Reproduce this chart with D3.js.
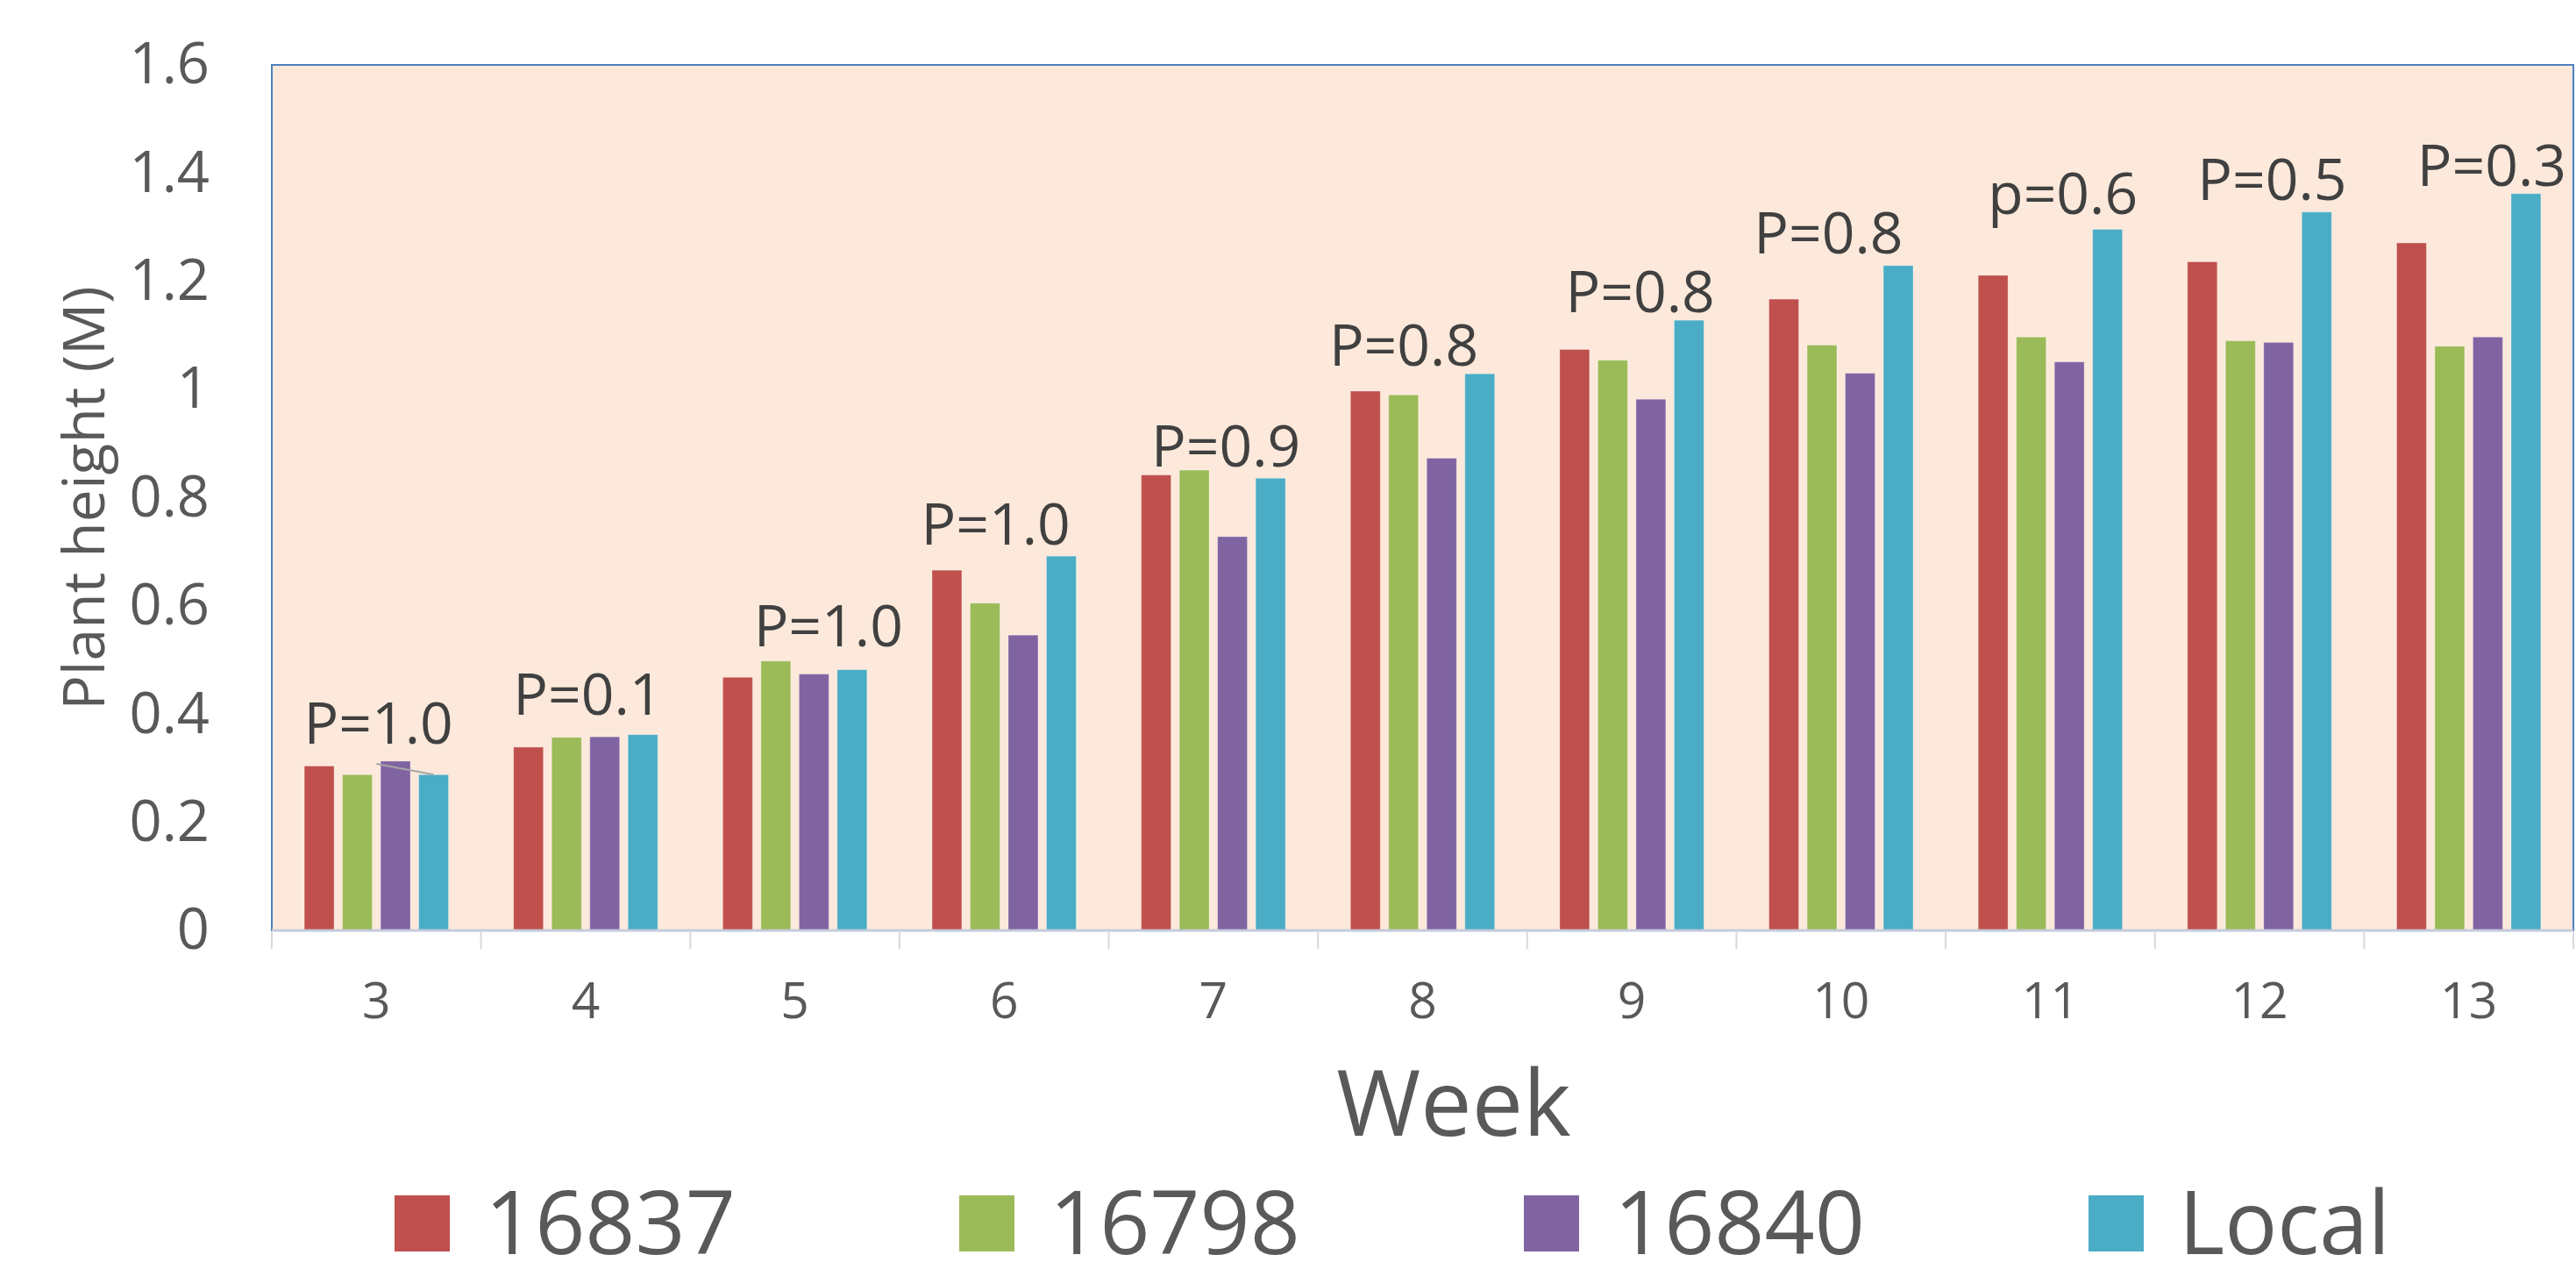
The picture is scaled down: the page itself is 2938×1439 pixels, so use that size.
<!DOCTYPE html>
<html>
<head>
<meta charset="utf-8">
<script src="https://cdn.jsdelivr.net/npm/d3@7"></script>
<style>
  body { margin: 0; background: #fff; }
  svg { display: block; font-family: "Open Sans", "Noto Sans", sans-serif; }
</style>
</head>
<body>
<div id="chart"></div>
<script>
// data
const weeks = [3, 4, 5, 6, 7, 8, 9, 10, 11, 12, 13];
const seriesNames = ["16837", "16798", "16840", "Local"];
const h16837 = [0.304, 0.339, 0.468, 0.666, 0.842, 0.997, 1.074, 1.167, 1.211, 1.236, 1.271];
const h16798 = [0.288, 0.357, 0.498, 0.605, 0.851, 0.990, 1.054, 1.082, 1.097, 1.090, 1.080];
const h16840 = [0.313, 0.358, 0.474, 0.546, 0.728, 0.873, 0.982, 1.030, 1.051, 1.087, 1.097];
const hLocal = [0.288, 0.362, 0.482, 0.692, 0.836, 1.029, 1.128, 1.229, 1.296, 1.328, 1.362];
const yTicks = [0, 0.2, 0.4, 0.6, 0.8, 1.0, 1.2, 1.4, 1.6];
// p-value annotations, anchored in data units (week, metres)
const pText = ["P=1.0", "P=0.1", "P=1.0", "P=1.0", "P=0.9", "P=0.8", "P=0.8", "P=0.8", "p=0.6", "P=0.5", "P=0.3"];
const pWeek = [3.01, 4.01, 5.16, 5.96, 7.06, 7.91, 9.04, 9.94, 11.06, 12.06, 13.11];
const pHeight = [0.345, 0.398, 0.525, 0.713, 0.858, 1.044, 1.143, 1.251, 1.324, 1.350, 1.376];

const colors = ["#c0504d", "#9bbb59", "#8064a2", "#4bacc6"];

const width = 2938, height = 1439;
const plot = {left: 310, right: 2935, top: 74, bottom: 1061};

const data = weeks.map((w, i) => ({
    week: w,
    values: [h16837[i], h16798[i], h16840[i], hLocal[i]].map((v, j) => ({key: seriesNames[j], value: v}))
}));

const svg = d3.select("#chart").append("svg")
    .attr("width", width)
    .attr("height", height);

const x0 = d3.scaleBand()
    .domain(weeks)
    .range([plot.left, plot.right])
    .paddingInner(0.311)
    .paddingOuter(0.1555);

const x1 = d3.scaleBand()
    .domain(seriesNames)
    .range([0, x0.bandwidth()])
    .paddingInner(0.22);

const y = d3.scaleLinear().domain([0, 1.6]).range([plot.bottom, plot.top]);
const color = d3.scaleOrdinal().domain(seriesNames).range(colors);

// week (float) -> pixel, for annotations
const weekX = (w) => {
    const base = Math.floor(w);
    return x0(base) + x0.bandwidth() / 2 + (w - base) * x0.step();
};

// plot area
svg.append("rect")
    .attr("x", plot.left)
    .attr("y", plot.top)
    .attr("width", plot.right - plot.left)
    .attr("height", plot.bottom - plot.top)
    .attr("fill", "#fde9db")
    .attr("stroke", "#4f81bd")
    .attr("stroke-width", 2);

// bars
svg.append("g").selectAll("g")
    .data(data)
    .join("g")
    .attr("transform", d => `translate(${x0(d.week)},0)`)
    .selectAll("rect")
    .data(d => d.values)
    .join("rect")
    .attr("x", d => x1(d.key))
    .attr("y", d => y(d.value))
    .attr("width", x1.bandwidth())
    .attr("height", d => y(0) - y(d.value))
    .attr("fill", d => color(d.key))
    .attr("stroke", "#fff")
    .attr("stroke-opacity", 0.3)
    .attr("stroke-width", 1);

// stray leader line at week 3 (goes to the Local bar)
svg.append("line")
    .attr("x1", weekX(3))
    .attr("y1", y(0.308))
    .attr("x2", x0(3) + x1("Local") + x1.bandwidth() / 2)
    .attr("y2", y(hLocal[0]))
    .attr("stroke", "#a6a6a6")
    .attr("stroke-width", 2);

// x axis line + boundary ticks
svg.append("line")
    .attr("x1", plot.left).attr("x2", plot.right)
    .attr("y1", plot.bottom).attr("y2", plot.bottom)
    .attr("stroke", "#c4cbdc")
    .attr("stroke-width", 3);

const bounds = weeks.map(w => x0(w) - x0.step() * x0.paddingInner() / 2).concat([plot.right]);
svg.append("g").selectAll("line")
    .data(bounds)
    .join("line")
    .attr("x1", d => d).attr("x2", d => d)
    .attr("y1", plot.bottom + 2).attr("y2", plot.bottom + 21)
    .attr("stroke", "#d9d9d9")
    .attr("stroke-width", 2);

// x tick labels
const xAxis = svg.append("g")
    .attr("transform", `translate(0,${plot.bottom})`)
    .call(d3.axisBottom(x0).tickSize(0).tickPadding(60));
xAxis.select(".domain").remove();
xAxis.selectAll("text")
    .attr("font-size", 57)
    .attr("font-family", "Open Sans")
    .attr("fill", "#595959");

// y axis labels
const yAxis = svg.append("g")
    .attr("transform", `translate(${plot.left},0)`)
    .call(d3.axisLeft(y).tickValues(yTicks).tickSize(0).tickPadding(71)
        .tickFormat(d => String(+d.toFixed(1))));
yAxis.select(".domain").remove();
yAxis.selectAll("text")
    .attr("font-size", 65)
    .attr("font-family", "Open Sans")
    .attr("fill", "#595959");

// p labels
svg.append("g").selectAll("text")
    .data(pText)
    .join("text")
    .attr("x", (d, i) => weekX(pWeek[i]))
    .attr("y", (d, i) => y(pHeight[i]))
    .attr("text-anchor", "middle")
    .attr("font-size", 66)
    .attr("fill", "#404040")
    .text(d => d);

// axis titles
svg.append("text")
    .attr("transform", `translate(119,568) rotate(-90)`)
    .attr("text-anchor", "middle")
    .attr("font-size", 66)
    .attr("fill", "#595959")
    .text("Plant height (M)");

svg.append("text")
    .attr("x", 1658)
    .attr("y", 1295)
    .attr("text-anchor", "middle")
    .attr("font-size", 104)
    .attr("fill", "#595959")
    .text("Week");

// legend
const legend = svg.append("g").selectAll("g")
    .data(seriesNames)
    .join("g")
    .attr("transform", (d, i) => `translate(${450 + i * 644},0)`);

legend.append("rect")
    .attr("x", 0)
    .attr("y", 1363)
    .attr("width", 63)
    .attr("height", 64)
    .attr("fill", d => color(d));

legend.append("text")
    .attr("x", 103)
    .attr("y", 1430)
    .attr("font-size", 100)
    .attr("fill", "#595959")
    .text(d => d);
</script>
</body>
</html>
